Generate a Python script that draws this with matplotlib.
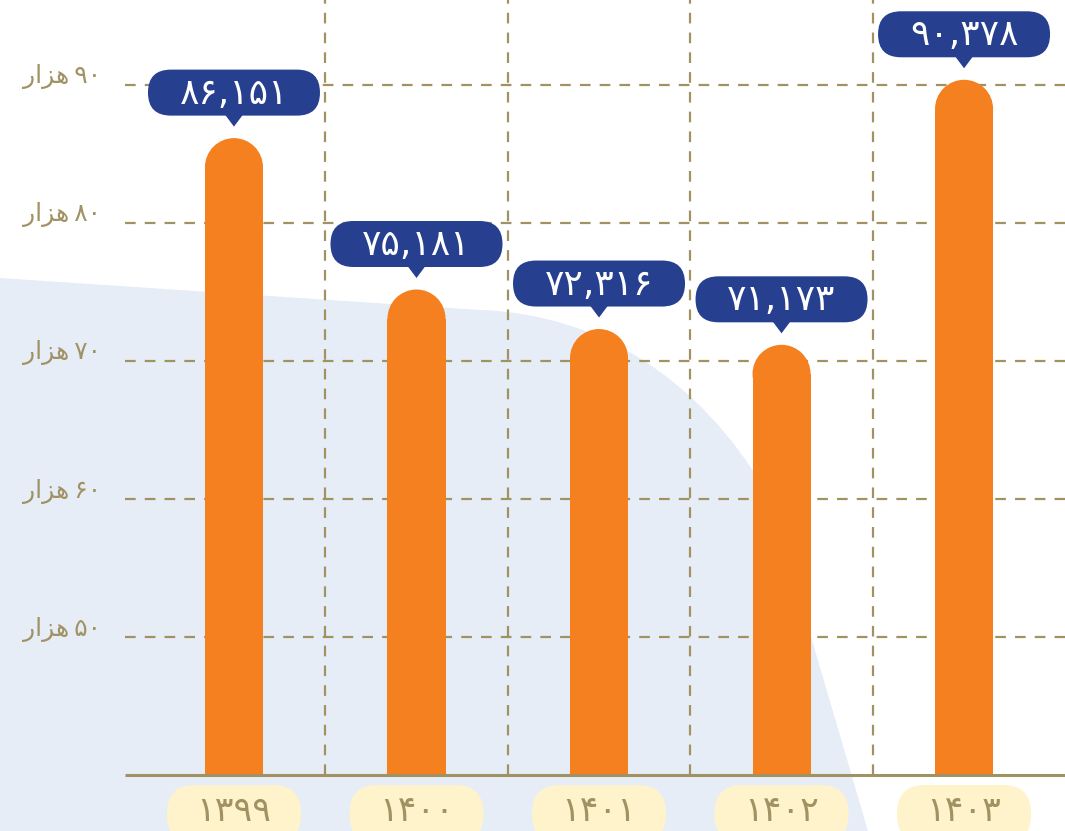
import matplotlib
matplotlib.use('Agg')
import matplotlib.pyplot as plt
from matplotlib.patches import Rectangle, Ellipse, FancyBboxPatch, Polygon, PathPatch
from matplotlib.path import Path

# ---------------- data ----------------
years = [1399, 1400, 1401, 1402, 1403]
values = [86151, 75181, 72316, 71173, 90378]
y_ticks = [50, 60, 70, 80, 90]          # thousand

FA = str.maketrans('0123456789', '۰۱۲۳۴۵۶۷۸۹')
def fa(s):
    return str(s).translate(FA)
HEZAR = '\uFEAD\uFE8D\uFEB0\uFEEB'       # "هزار" in visual (shaped) order

# ---------------- style ----------------
ORANGE = '#F58020'
NAVY = '#263F8E'
PALE_BLUE = '#E6EDF7'
PILL = '#FEF3CB'
OLIVE = '#A09263'
FONT = ['DejaVu Sans']
plt.rcParams['font.family'] = FONT

W, H = 1065, 831
fig = plt.figure(figsize=(W / 100, H / 100), dpi=100)
fig.patch.set_facecolor('white')

# background decoration (pixel coordinates)
bg = fig.add_axes([0, 0, 1, 1], zorder=0)
bg.set_xlim(0, W); bg.set_ylim(H, 0); bg.axis('off')
verts = [(0, 278), (480, 310), (600, 314), (700, 380), (765, 490),
         (812, 640), (868, 831), (0, 831), (0, 278)]
codes = [Path.MOVETO, Path.LINETO, Path.CURVE4, Path.CURVE4, Path.CURVE4,
         Path.LINETO, Path.LINETO, Path.LINETO, Path.CLOSEPOLY]
bg.add_patch(PathPatch(Path(verts, codes), facecolor=PALE_BLUE, edgecolor='none'))

# main axes
left_px, base_px = 125, 775
ax = fig.add_axes([left_px / W, (H - base_px) / H, (W - left_px) / W, base_px / H], zorder=1)
ax.patch.set_alpha(0)
ymin = 40
ax.set_ylim(ymin, ymin + base_px / 13.8)
ax.set_xlim(-0.597, 4.553)
ax.axis('off')

x = list(range(len(years)))
dash = (0, (4.8, 4.1))
for t in y_ticks:
    ax.plot(ax.get_xlim(), [t, t], color=OLIVE, lw=1.6, ls=dash, zorder=1)
for i in x[:-1]:
    ax.plot([i + 0.5, i + 0.5], ax.get_ylim(), color=OLIVE, lw=1.6, ls=dash, zorder=1)
ax.plot(ax.get_xlim(), [ymin, ymin], color=OLIVE, lw=2.2, zorder=4, clip_on=False,
        solid_capstyle='butt')

# bars with rounded tops
bw = 0.318
xr = ax.get_xlim(); yr = ax.get_ylim()
px_x = (W - left_px) / (xr[1] - xr[0])
px_y = base_px / (yr[1] - yr[0])
ry = (bw / 2) * px_x / px_y
for i, v in zip(x, values):
    vt = v / 1000
    ax.add_patch(Rectangle((i - bw / 2, ymin), bw, vt - ry - ymin, facecolor=ORANGE,
                           edgecolor='none', zorder=3))
    ax.add_patch(Ellipse((i, vt - ry), bw, 2 * ry, facecolor=ORANGE, edgecolor='none', zorder=3))

# overlay for labels (pixel coords)
ov = fig.add_axes([0, 0, 1, 1], zorder=5)
ov.set_xlim(0, W); ov.set_ylim(H, 0); ov.axis('off')
ov.patch.set_alpha(0)

def to_px(xd, yd):
    d = ax.transData.transform((xd, yd))
    return d[0], H - d[1]

for i, v in zip(x, values):
    cx, top = to_px(i, v / 1000)
    bwid, bh = 172, 46
    cy = top - 45.5
    ov.add_patch(FancyBboxPatch((cx - bwid / 2, cy - bh / 2), bwid, bh,
                                boxstyle='round,pad=0,rounding_size=23',
                                facecolor=NAVY, edgecolor='none'))
    ov.add_patch(Polygon([(cx - 9, cy + bh / 2 - 1), (cx + 9, cy + bh / 2 - 1),
                          (cx, cy + bh / 2 + 11)], closed=True, facecolor=NAVY,
                         edgecolor='none'))
    ov.text(cx, cy + 1, fa(f'{v:,}'), ha='center', va='center', color='white',
            fontsize=26)

for i, yv in zip(x, years):
    cx, _ = to_px(i, ymin)
    pw, ph = 134, 58
    ov.add_patch(FancyBboxPatch((cx - pw / 2, 785), pw, ph,
                                boxstyle='round,pad=0,rounding_size=28',
                                facecolor=PILL, edgecolor='none'))
    ov.text(cx, 811, fa(yv), ha='center', va='center', color=OLIVE, fontsize=25)

for t in y_ticks:
    _, gy = to_px(0, t)
    ov.text(101, gy - 8, HEZAR + '\u2009' + fa(t), ha='right', va='center', color=OLIVE,
            fontsize=18)

fig.savefig('out.png', dpi=100)
